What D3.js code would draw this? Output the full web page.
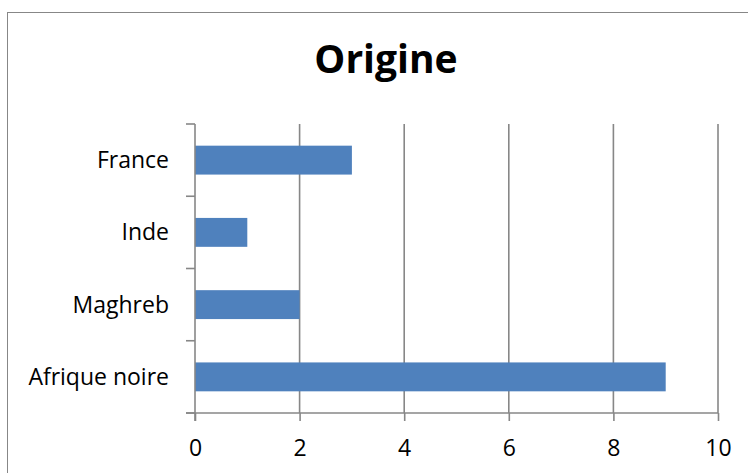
<!DOCTYPE html>
<html>
<head>
<meta charset="utf-8">
<script src="https://cdn.jsdelivr.net/npm/d3@7"></script>
<style>
  html, body { margin: 0; padding: 0; background: #fff; }
  svg { display: block; }
</style>
</head>
<body>
<svg id="chart" width="748" height="473"></svg>
<script>
// Origin counts per category, listed top to bottom
const categories = ["France", "Inde", "Maghreb", "Afrique noire"];
const values = [3, 1, 2, 9];
const xTicks = [0, 2, 4, 6, 8, 10];
const title = "Origine";

const svg = d3.select("#chart");
const W = 748, H = 473;
const plot = { left: 195, right: 718, top: 124, bottom: 413 };
const gridColor = "#878787";
const barColor = "#4F81BD";
const font = "'Open Sans', 'Noto Sans', sans-serif";

// chart frame
svg.append("rect")
  .attr("x", 7.5).attr("y", 12.5)
  .attr("width", W + 10).attr("height", H + 10)
  .attr("fill", "#fff")
  .attr("stroke", "#878787")
  .attr("stroke-width", 1);

// title
svg.append("text")
  .attr("x", 386).attr("y", 73)
  .attr("text-anchor", "middle")
  .attr("font-family", font)
  .attr("font-weight", "bold")
  .attr("font-size", 39)
  .attr("fill", "#000")
  .text(title);

const x = d3.scaleLinear().domain([0, 10]).range([plot.left, plot.right]);
const y = d3.scaleBand().domain(categories)
  .range([plot.top, plot.bottom])
  .paddingInner(0.6).paddingOuter(0.3);

// vertical gridlines
svg.append("g")
  .selectAll("line")
  .data(xTicks.filter(d => d > 0))
  .join("line")
  .attr("x1", d => x(d)).attr("x2", d => x(d))
  .attr("y1", plot.top).attr("y2", plot.bottom)
  .attr("stroke", gridColor)
  .attr("stroke-width", 1.6);

// bars
svg.append("g")
  .selectAll("rect")
  .data(categories.map((c, i) => ({ c, v: values[i] })))
  .join("rect")
  .attr("x", x(0))
  .attr("y", d => y(d.c))
  .attr("width", d => x(d.v) - x(0))
  .attr("height", y.bandwidth())
  .attr("fill", barColor);

// x axis
const xAxis = svg.append("g")
  .attr("transform", `translate(0,${plot.bottom})`)
  .call(d3.axisBottom(x).tickValues(xTicks).tickSize(8).tickPadding(19).tickSizeOuter(0));
xAxis.select(".domain").remove();
xAxis.append("line")
  .attr("x1", plot.left - 9).attr("x2", plot.right)
  .attr("stroke", gridColor).attr("stroke-width", 1.6);
xAxis.selectAll(".tick line").attr("stroke", gridColor).attr("stroke-width", 1.6);
xAxis.selectAll(".tick text")
  .attr("font-family", font).attr("font-size", 23).attr("fill", "#000");

// y axis: ticks at category boundaries
const bounds = categories.map(c => y(c) - (y.step() - y.bandwidth()) / 2)
  .concat([plot.bottom]);
const yAxis = svg.append("g");
yAxis.append("line")
  .attr("x1", plot.left).attr("x2", plot.left)
  .attr("y1", plot.top).attr("y2", plot.bottom + 8)
  .attr("stroke", gridColor).attr("stroke-width", 1.6);
yAxis.selectAll(".bt")
  .data(bounds)
  .join("line")
  .attr("class", "bt")
  .attr("x1", plot.left - 9).attr("x2", plot.left)
  .attr("y1", d => d).attr("y2", d => d)
  .attr("stroke", gridColor).attr("stroke-width", 1.6);
yAxis.selectAll("text")
  .data(categories)
  .join("text")
  .attr("x", 169)
  .attr("y", d => y(d) + y.bandwidth() / 2)
  .attr("dy", "0.35em")
  .attr("text-anchor", "end")
  .attr("font-family", font).attr("font-size", 23).attr("fill", "#000")
  .text(d => d);
</script>
</body>
</html>
